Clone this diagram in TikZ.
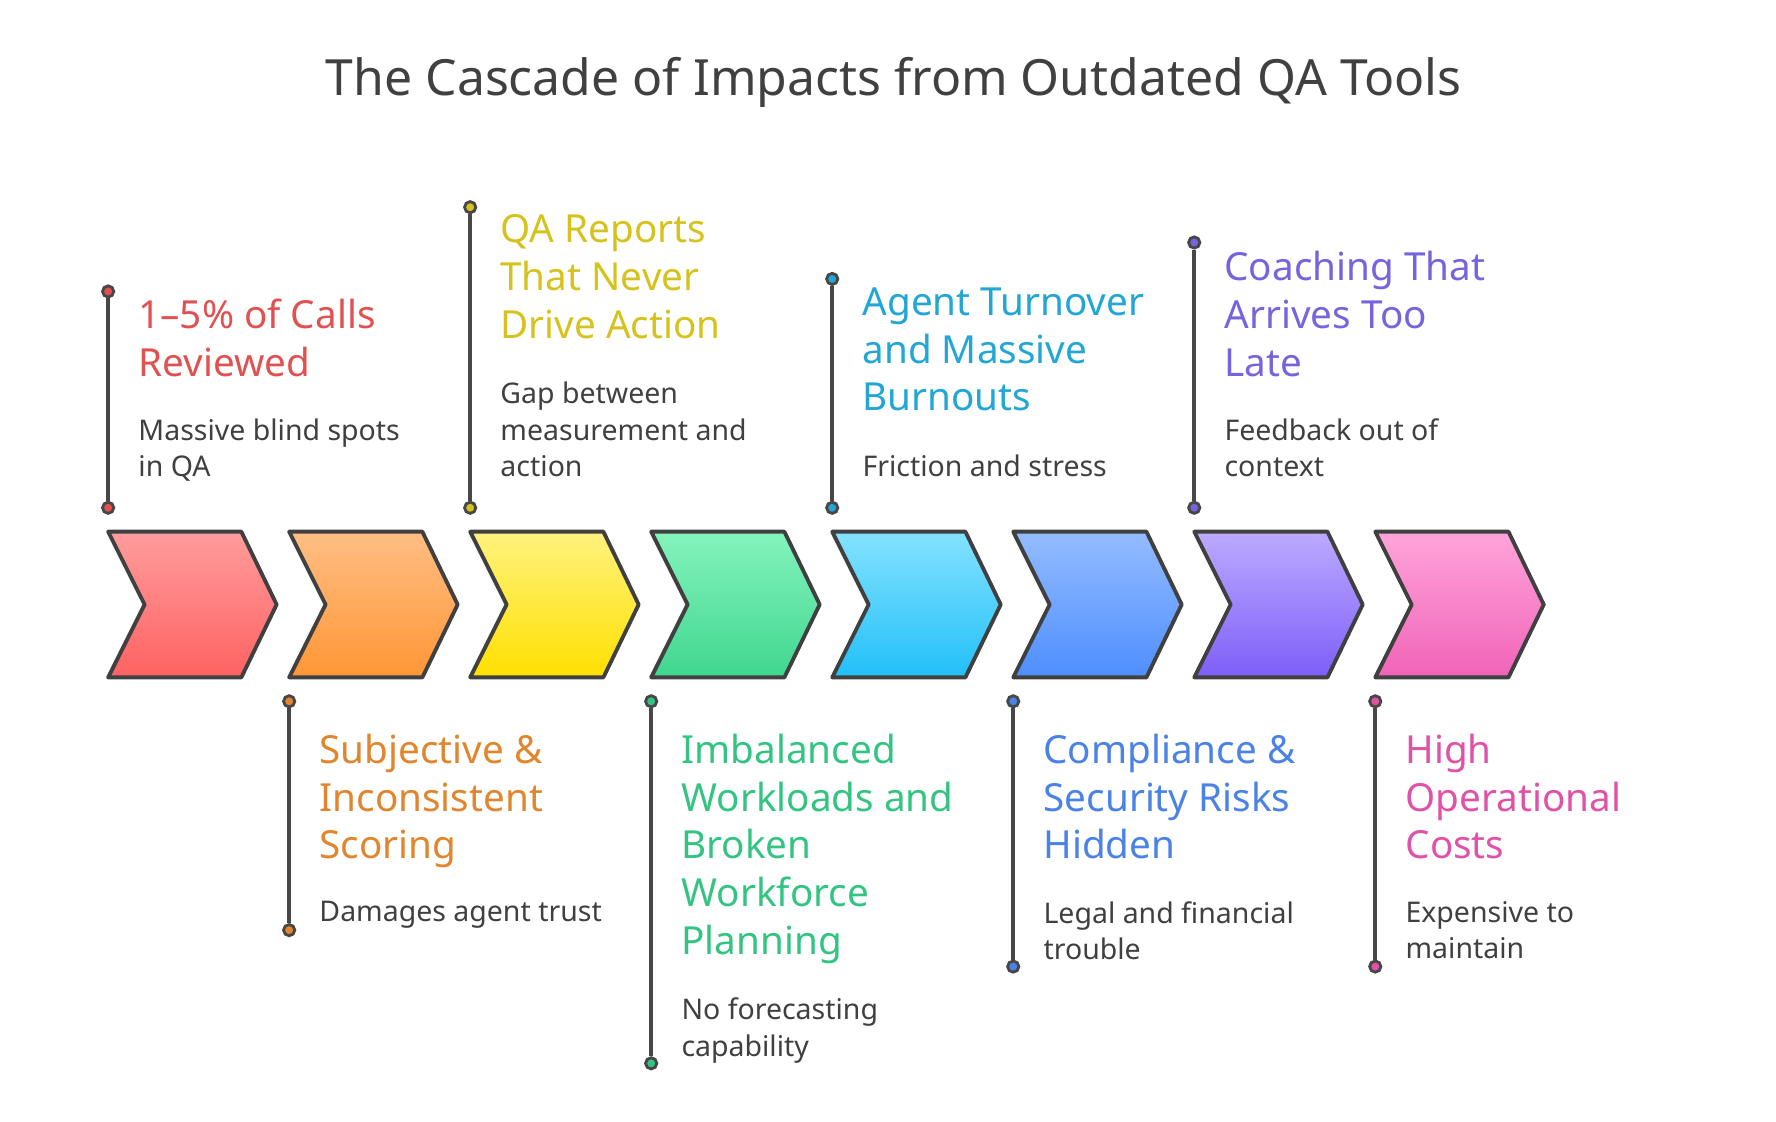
\documentclass[tikz,border=0pt]{standalone}
\usepackage{fontspec}
\setmainfont{Noto Sans}
\begin{document}
\begin{tikzpicture}[x=0.01138cm,y=-0.01138cm,
  chev/.style={draw=black!75,line width=1.1pt,line join=round},
  tl/.style={draw=black!72,line width=1.1pt},
  dot/.style={circle,draw=black!72,line width=0.8pt,minimum size=3.2pt,inner sep=0pt},
  ttl/.style={anchor=north west,inner sep=0pt,align=left,font=\fontsize{11}{13.6}\selectfont},
  dsc/.style={anchor=north west,inner sep=0pt,align=left,text=black!75,font=\fontsize{8.1}{10.4}\selectfont}]
\useasboundingbox (0,0) rectangle (1560,985);
\definecolor{t1}{HTML}{E05252}\definecolor{t2}{HTML}{E0862E}\definecolor{t3}{HTML}{D6C21C}
\definecolor{t4}{HTML}{34C482}\definecolor{t5}{HTML}{22A6D6}\definecolor{t6}{HTML}{4A82E6}
\definecolor{t7}{HTML}{7862DE}\definecolor{t8}{HTML}{E052A8}
\node[font=\bfseries\fontsize{14.2}{17}\selectfont,text=black!75] (title) at (785,72) {The Cascade of Impacts from Outdated QA Tools};
% chevrons
\foreach \i/\a/\b in {0/FF9C9C/FF6262,1/FFBE84/FF9636,2/FFF27E/FFE000,3/84F4BC/40D690,4/84E2FF/22C0F8,5/94BCFF/4E8EFF,6/BCAAFF/7E5EF8,7/FFA4DA/F064B8}{
  \definecolor{ca}{HTML}{\a}\definecolor{cb}{HTML}{\b}
  \begin{scope}[xshift=\i*159*0.01138cm]
  \draw[chev,top color=ca,bottom color=cb] (95,467) -- (212,467) -- (243,531) -- (212,595) -- (95,595) -- (127,531) -- cycle;
  \end{scope}
}
% item 1
\node[dot,fill=t1] (a1) at (95,256) {}; \node[dot,fill=t1] (b1) at (95,446) {};
\draw[tl] (a1) -- (b1);
\node[ttl,text=t1] (h1) at (121,262) {1–5\% of Calls\\Reviewed};
\node[dsc] (d1) at (121,367) {Massive blind spots\\in QA};
% item 3
\node[dot,fill=t3] (a3) at (413,182) {}; \node[dot,fill=t3] (b3) at (413,446) {};
\draw[tl] (a3) -- (b3);
\node[ttl,text=t3] (h3) at (439,188) {QA Reports\\That Never\\Drive Action};
\node[dsc] (d3) at (439,335) {Gap between\\measurement and\\action};
% item 5
\node[dot,fill=t5] (a5) at (731,245) {}; \node[dot,fill=t5] (b5) at (731,446) {};
\draw[tl] (a5) -- (b5);
\node[ttl,text=t5] (h5) at (757,252) {Agent Turnover\\and Massive\\Burnouts};
\node[dsc] (d5) at (757,399) {Friction and stress};
% item 7
\node[dot,fill=t7] (a7) at (1049,213) {}; \node[dot,fill=t7] (b7) at (1049,446) {};
\draw[tl] (a7) -- (b7);
\node[ttl,text=t7] (h7) at (1075,220) {Coaching That\\Arrives Too\\Late};
\node[dsc] (d7) at (1075,367) {Feedback out of\\context};
% item 2
\node[dot,fill=t2] (a2) at (254,616) {}; \node[dot,fill=t2] (b2) at (254,817) {};
\draw[tl] (a2) -- (b2);
\node[ttl,text=t2] (h2) at (280,644) {Subjective \&\\Inconsistent\\Scoring};
\node[dsc] (d2) at (280,791) {Damages agent trust};
% item 4
\node[dot,fill=t4] (a4) at (572,616) {}; \node[dot,fill=t4] (b4) at (572,934) {};
\draw[tl] (a4) -- (b4);
\node[ttl,text=t4] (h4) at (598,644) {Imbalanced\\Workloads and\\Broken\\Workforce\\Planning};
\node[dsc] (d4) at (598,876) {No forecasting\\capability};
% item 6
\node[dot,fill=t6] (a6) at (890,616) {}; \node[dot,fill=t6] (b6) at (890,849) {};
\draw[tl] (a6) -- (b6);
\node[ttl,text=t6] (h6) at (916,644) {Compliance \&\\Security Risks\\Hidden};
\node[dsc] (d6) at (916,791) {Legal and financial\\trouble};
% item 8
\node[dot,fill=t8] (a8) at (1208,616) {}; \node[dot,fill=t8] (b8) at (1208,849) {};
\draw[tl] (a8) -- (b8);
\node[ttl,text=t8] (h8) at (1234,644) {High\\Operational\\Costs};
\node[dsc] (d8) at (1234,791) {Expensive to\\maintain};
\end{tikzpicture}
\end{document}
